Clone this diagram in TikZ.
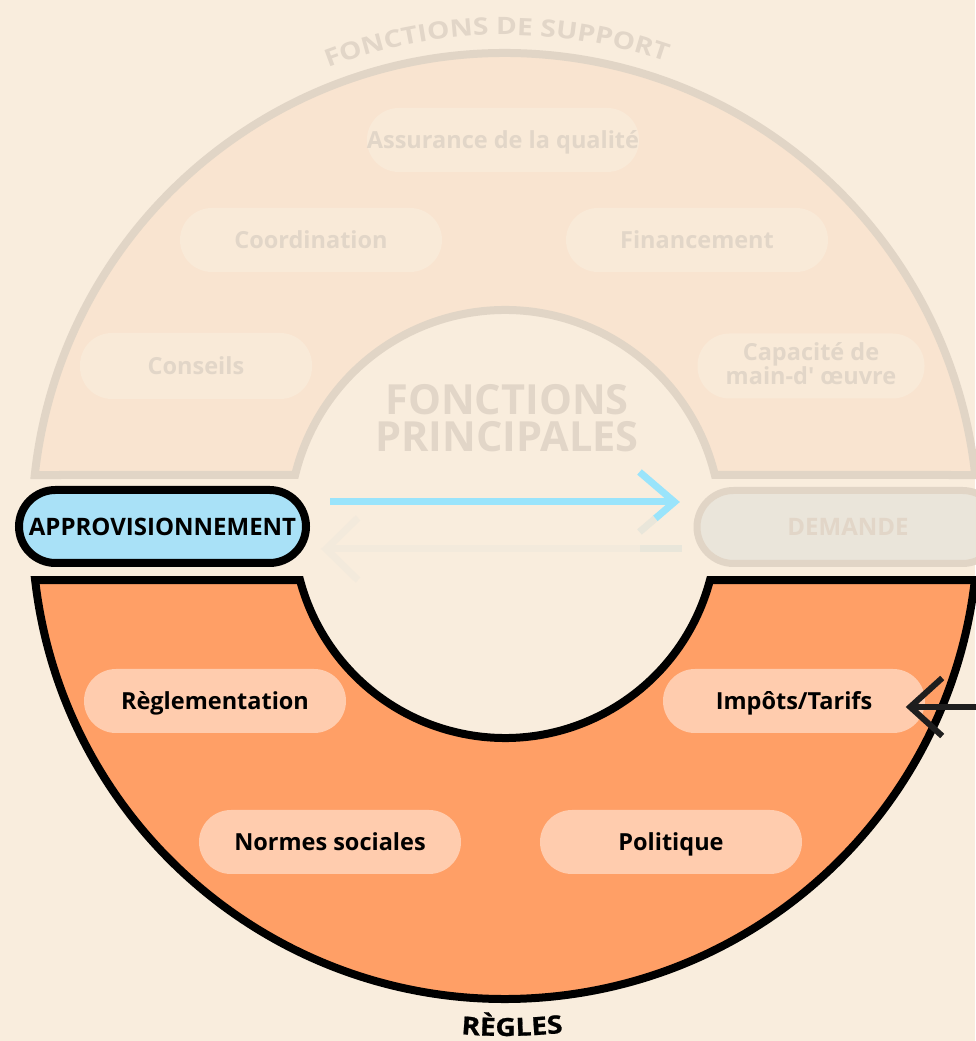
\documentclass[tikz,border=0pt]{standalone}
\usepackage{fontspec}
\setmainfont{Open Sans}
\newfontfamily\arcwide{Open Sans}[FakeStretch=1.17]
\newfontfamily\archeavy{Open Sans}[FakeStretch=1.13, FakeBold=0.8]
\usetikzlibrary{decorations.text,calc}

\definecolor{bgcream}{HTML}{F9EDDD}
\definecolor{supfill}{HTML}{F9E4D0}
\definecolor{suppill}{HTML}{F9EAD8}
\definecolor{supline}{HTML}{E1D5C6}
\definecolor{suptext}{HTML}{E2D6C8}
\definecolor{rulefill}{HTML}{FF9F66}
\definecolor{rulepill}{HTML}{FFCCAE}
\definecolor{supplyfill}{HTML}{A9E1F7}
\definecolor{flowblue}{HTML}{9AE4FB}
\definecolor{demfill}{HTML}{EAE5DA}
\definecolor{ghost}{HTML}{F3EADC}
\definecolor{ghostdark}{HTML}{E9E6DA}
\definecolor{inkdark}{HTML}{1E1E1E}

\newcommand{\pillfont}{\fontsize{23.5}{26}\selectfont\bfseries}

\tikzset{
  suppillbox/.style={fill=suppill, rounded corners=32pt, minimum width=262pt,
    minimum height=64pt, inner sep=0pt, text=suptext, font=\pillfont, align=center,
    text height=16.8pt, text depth=0pt},
  rulepillbox/.style={fill=rulepill, rounded corners=32pt, minimum width=262pt,
    minimum height=64pt, inner sep=0pt, text=black, font=\pillfont,
    text height=16.8pt, text depth=0pt},
  sidebox/.style={rounded corners=36.5pt, minimum width=287pt, minimum height=73pt,
    inner sep=0pt, font=\fontsize{24}{28}\selectfont\bfseries,
    text height=17.1pt, text depth=0pt},
  flowline/.style={line width=7pt},
  headline/.style={line width=7pt, line cap=butt, line join=miter},
}

\begin{document}
\begin{tikzpicture}[x=1pt,y=1pt]
\useasboundingbox (0,0) rectangle (975,1041);
\fill[bgcream] (0,0) rectangle (975,1041);

\coordinate (C) at (505,515);

% support ring (upper half of the annulus)
\draw[fill=supfill, draw=supline, line width=8pt, line join=miter]
  ([shift={(173.81:473)}]C) arc[start angle=173.81, end angle=6.19, radius=473]
  -- ([shift={(13.66:216)}]C) arc[start angle=13.66, end angle=166.34, radius=216]
  -- cycle;

% rules ring (lower half of the annulus)
\draw[fill=rulefill, draw=black, line width=8pt, line join=miter]
  ([shift={(186.56:473)}]C) arc[start angle=186.56, end angle=353.44, radius=473]
  -- ([shift={(345.24:212)}]C) arc[start angle=345.24, end angle=194.76, radius=212]
  -- cycle;

% ring titles
\path[decorate, decoration={text along path, text align=center, text color=suptext,
    text={|\arcwide\fontsize{24}{28}\selectfont\bfseries|FONCTIONS DE SUPPORT}}]
  ([shift={(131:491)}]C) arc[start angle=131, end angle=51, radius=491];
\path[decorate, decoration={text along path, text align=center, text color=black,
    text={|\archeavy\fontsize{25}{29}\selectfont\bfseries|RÈGLES}}]
  ([shift={(240.8:510)}]C) arc[start angle=240.8, end angle=300.8, radius=510];

% support functions
\node[suppillbox] (assur) at (503,901) {Assurance de la qualité};
\node[suppillbox] (coord) at (311,801) {Coordination};
\node[suppillbox] (finan) at (697,801) {Financement};
\node[suppillbox, minimum width=232pt, minimum height=66pt] (cons) at (196,675) {Conseils};
\node[suppillbox, minimum width=227pt, minimum height=65pt, text height=37.8pt, text depth=0pt,
  font=\fontsize{23.5}{21}\selectfont\bfseries]
  (capa) at (811,675) {Capacité de\\main-d\textquotesingle{} œuvre};

% core functions
\node[text=suptext, font=\fontsize{41.5}{37}\selectfont\bfseries, align=center]
  (core) at (507,623) {FONCTIONS\\PRINCIPALES};

% supply and demand
\node[sidebox, fill=supplyfill, draw=black, line width=8pt] (appro) at (162.5,514.5) {APPROVISIONNEMENT};
\node[sidebox, fill=demfill, draw=supline, line width=7pt, minimum width=302pt, text=suptext]
  (dem) at (848,514) {DEMANDE};

% faded return flow
\coordinate (rs) at ($(dem.west |- 0,492)+(-12,0)$);
\coordinate (rt) at ($(appro.east |- 0,492)+(16,0)$);
\draw[ghost, flowline] (rs) -- (rt);
\draw[ghostdark, flowline] (rs) -- ++(-42,0);
\draw[ghost, headline] ($(rt)+(32,31)$) -- (rt) -- ($(rt)+(32,-31)$);

% supply flow
\coordinate (fs) at ($(appro.east |- 0,539)+(20,0)$);
\coordinate (ft) at ($(dem.west |- 0,539)+(-19,0)$);
\draw[flowblue, flowline] (fs) -- (ft);
\draw[flowblue, headline] ($(ft)+(-35,30)$) -- (ft) -- ($(ft)+(-19.25,-16.5)$);
\draw[ghostdark, headline] ($(ft)+(-19.25,-16.5)$) -- ($(ft)+(-35,-30)$);

% rules
\node[rulepillbox] (regl) at (215,340) {Règlementation};
\node[rulepillbox] (impo) at (794,340) {Impôts/Tarifs};
\node[rulepillbox] (norm) at (330,199) {Normes sociales};
\node[rulepillbox] (poli) at (671,199) {Politique};

% outside pressure on taxes
\coordinate (ext) at (985,334);
\coordinate (it) at ([xshift=-15pt]impo.east |- 0,334);
\draw[inkdark, line width=6pt] (ext) -- (it);
\draw[inkdark, line width=6pt, line join=miter] ($(it)+(32,29)$) -- (it) -- ($(it)+(32,-29)$);
\end{tikzpicture}
\end{document}
